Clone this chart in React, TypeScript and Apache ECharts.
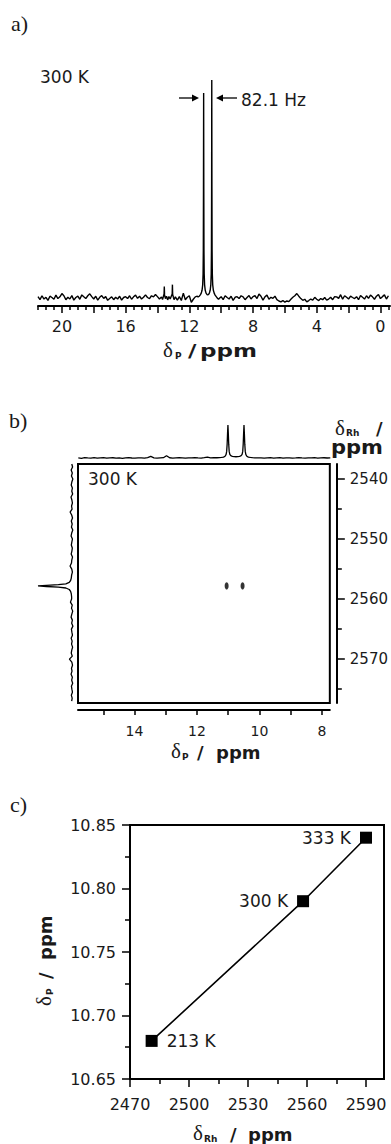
import React, { useEffect, useRef } from 'react';
import * as echarts from 'echarts';

// ---------- Panel a: 31P spectrum (ppm, intensity) ----------
const A_START = 21.5;
const A_STEP = -0.125;
const A_NOISE = [
  0.6, -0.8, 1.0, -0.5, 0.3, -1.1, 0.8, 0.2, -0.6, 1.3, -0.3, 0.5, 2.0, 1.0, -0.8, 0.3, -0.5, 1.1, -1.0, 0.2,
  0.8, -0.6, 1.4, 0.5, -0.3, 1.0, 1.9, 0.6, -0.5, 0.8, -1.0, 0.3, 1.1, -0.2, 0.6, -1.1, -0.3, 0.5, -0.8, 0.3,
  -0.5, 0.8, -1.0, 0.2, 0.6, -0.3, 1.0, -0.6, 0.5, 1.3, -0.2, 0.8, -0.5, 0.3, 1.4, 0.2, -0.3, 1.0, 0.5, 1.6,
  0.6, -0.5, 0.8, -0.3, 0.5, 0.2, -0.6, 1.0, 0.3, 0.5, -1.0, 0.6, -1.2, 2.2, -0.8, 0.3, 1.0, -2.0, -0.6, 0.5,
  0.8, 0, 0, 0, 0, 0, 0, 0, 0, 0, 0, -0.3, 0.6, -0.8, 1.0, 0.2, -0.5, 0.8, -1.1, 0.3,
  0.6, -0.3, 1.0, 0.5, -0.8, 0.2, 1.1, -0.5, 0.6, 1.0, -0.3, 1.8, 0.8, -1.0, 0.5, 1.3, -0.6, 0.3, -0.2, 0.8,
  -0.8, -1.4, -1.8, -1.2, -1.9, -1.4, -1.7, -0.6, 0.3, 1.0, 2.0, 0.8, -0.3, -1.1, -0.6, -1.8, -1.2, -0.5, -1.0, 0.3,
  -0.6, -1.2, -0.3, -0.8, 0.2, -1.0, -0.5, 0.3, -0.8, 0.6, 0.5, -0.2, 1.5, -0.6, 1.0, 0.3, -0.5, 0.8, 0.2, -0.3,
  0.6, -0.8, 1.1, 0.3, -0.5, 1.0, -0.2, 1.3, 0.5, -0.6, 0.8, 1.6, -0.3, 0.6, 1.4, -0.5, 1.0,
];
const A_GAPS: [number, number][] = [[12.95, 13.8], [10.15, 11.46]];
const A_DETAIL: [number, number][] = [
  [13.75, 0.4], [13.68, -0.7], [13.62, 0.9], [13.585, 1.8], [13.57, 5.2], [13.555, 1.4], [13.5, -0.3],
  [13.43, 0.8], [13.36, -0.9], [13.28, 0.6], [13.2, -0.5], [13.12, 1.0], [13.075, 1.8], [13.06, 6.1],
  [13.045, 1.6], [13.0, 0.3], [12.96, -0.8],
  [11.45, 0.4], [11.38, 0.8], [11.31, 1.4], [11.25, 2.2], [11.2, 3.5], [11.16, 6], [11.135, 11], [11.12, 22],
  [11.11, 50], [11.1, 94], [11.09, 50], [11.08, 22], [11.065, 11], [11.04, 6], [11.0, 3.5], [10.95, 2.2],
  [10.87, 1.4], [10.8, 1.5], [10.74, 2.2], [10.69, 3.5], [10.65, 6], [10.625, 11], [10.61, 22], [10.6, 50],
  [10.59, 100], [10.58, 50], [10.57, 22], [10.555, 11], [10.53, 6], [10.49, 3.5], [10.44, 2.2], [10.38, 1.3],
  [10.31, 0.6], [10.23, -0.2], [10.16, -0.6],
];
const A_MAJOR_TICKS = [0, 2, 4, 6, 8, 10, 12, 14, 16, 18, 20];
const A_LABELS = [0, 4, 8, 12, 16, 20];

// ---------- Panel b: 2D HMQC with projections ----------
const B_TOP_START = 15.8;
const B_TOP_STEP = -0.1;
const B_TOP_NOISE = [
  0.5, -0.8, 1.0, 0.2, -0.5, 0.9, -0.3, 0.4, 1.1, -0.6, 0.3, 0.8, -0.2, 0.5, -0.9, 0.6, 1.2, 0.1, -0.4, 0.7,
  0.2, -0.5, 1.4, 5.0, 0.6, -0.3, 0.4, 1.0, 7.0, 0.8, -0.2, 0.5, 1.1, 0.3, -0.6, 0.7, 0.2, 1.3, 0.4, -0.3,
  0.9, 3.0, 0.6, 0.8, 0, 0, 0, 0, 0, 0, 0, 0, 0, 0, 0, 0, 0, 0.6, 0.2, -0.4,
  0.5, 0.9, -0.2, 0.4, 1.0, -0.5, 0.3, 0.7, -0.1, 0.5, 1.2, 0.2, -0.4, 0.6, 0.3, 0.9, -0.2, 0.4, 0.8, 0.1, 0.5,
];
const B_TOP_GAPS: [number, number][] = [[10.15, 11.42]];
const B_TOP_DETAIL: [number, number][] = [
  [11.4, 0.8], [11.32, 1.1], [11.25, 1.7], [11.19, 2.8], [11.14, 5.5], [11.11, 10], [11.09, 20], [11.075, 42],
  [11.062, 75], [11.05, 100], [11.038, 75], [11.025, 42], [11.01, 20], [10.99, 11], [10.96, 7], [10.91, 5],
  [10.85, 4], [10.795, 3.8], [10.74, 4], [10.68, 5], [10.63, 7], [10.6, 11], [10.58, 20], [10.565, 42],
  [10.552, 75], [10.54, 100], [10.528, 75], [10.515, 42], [10.5, 20], [10.48, 10], [10.45, 5.5], [10.4, 2.8],
  [10.34, 1.7], [10.27, 1.1], [10.2, 0.7],
];
const B_LEFT_START = 2537.5;
const B_LEFT_STEP = 0.5;
const B_LEFT_NOISE = [
  0.5, -1.8, 2.4, -1.0, 1.5, -2.6, 0.4, 2.2, -1.2, 0.6, -2.0, 2.8, 0.2, -1.4, 1.2, -0.4, 5.5, 0.8, -1.6, 1.9,
  -0.6, 1.6, -2.4, 0.8, 2.6, -1.4, 0.4, 1.9, -1.0, 0.2, 2.4, -1.6, 0.6, 1.4, 5.5, 0.5, -1.2, 0, 0, 0,
  0, 0, 0, 0, 0, 1.0, 4.5, -0.8, 1.4, -2.2, 0.4, 2.6, -1.2, 0.8, -2.8, 1.6, 0.2, -1.4, 2.4, -0.5,
  1.2, -1.9, 0.6, 2.1, -1.0, 7.5, 0.4, -1.6, 1.4, -0.2, 2.6, -1.2, 0.8, -2.1, 1.6, 0.2, -1.4, 1.9, -0.6, 0.8,
];
const B_LEFT_GAPS: [number, number][] = [[2555.9, 2559.7]];
const B_LEFT_DETAIL: [number, number][] = [
  [2556.0, 1.0], [2556.5, 2.0], [2556.9, 4], [2557.2, 8], [2557.45, 18], [2557.6, 40], [2557.7, 75],
  [2557.8, 100], [2557.9, 75], [2558.0, 40], [2558.15, 18], [2558.4, 8], [2558.7, 4], [2559.1, 2.0], [2559.6, 1.0],
];
const CROSS_P = [11.05, 10.54];
const CROSS_RH = [2557.8, 2557.8];
const B_X_TICKS = [8, 9, 10, 11, 12, 13, 14, 15];
const B_X_LABELS = [8, 10, 12, 14];
const B_Y_MAJOR = [2540, 2550, 2560, 2570];
const B_Y_MINOR = [2545, 2555, 2565, 2575];

// ---------- Panel c: delta P vs delta Rh ----------
const C_RH = [2481, 2558, 2590];
const C_P = [10.68, 10.79, 10.84];
const C_TEMPS = ['213 K', '300 K', '333 K'];
const C_LABEL_POS = ['right', 'left', 'left'];
const C_X_MAJOR = [2470, 2500, 2530, 2560, 2590];
const C_X_MINOR = [2485, 2515, 2545, 2575];
const C_Y_MAJOR = [10.65, 10.7, 10.75, 10.8, 10.85];
const C_Y_MINOR = [10.675, 10.725, 10.775, 10.825];

function buildSpectrum(start: number, step: number, noise: number[], gaps: [number, number][], detail: [number, number][], desc: boolean) {
  const pts: [number, number][] = [];
  noise.forEach((v, i) => {
    const p = +(start + step * i).toFixed(4);
    if (!gaps.some(([a, b]) => p >= a && p <= b)) pts.push([p, v]);
  });
  detail.forEach((d) => pts.push([d[0], d[1]]));
  pts.sort((a, b) => (desc ? b[0] - a[0] : a[0] - b[0]));
  return pts;
}

const FONT = 'DejaVu Sans';
const SERIF = 'Liberation Serif';
const INK = '#1a1a1a';

function tickAxis(extra: any) {
  return {
    type: 'value',
    splitLine: { show: false },
    axisLine: { show: false, onZero: false },
    axisLabel: { show: false },
    axisTick: { show: false },
    ...extra,
  };
}

function txt(x: number, y: number, text: string, size: number, opts: any = {}) {
  return {
    type: 'text',
    x,
    y,
    scaleX: opts.sx || 1,
    style: {
      text,
      fontFamily: opts.family || FONT,
      fontWeight: opts.bold ? 'bold' : 'normal',
      fontSize: size,
      fill: INK,
      align: opts.align || 'left',
      verticalAlign: 'middle',
      textAlign: opts.align || 'left',
      textVerticalAlign: 'middle',
    },
  };
}

// axis title made of separate pieces: delta (serif), subscript (bold), slash and ppm (bold)
function title(x: number, y: number, sub: string, layout: number[], opts: any = {}) {
  const [dX, sX, slX, pX] = layout;
  return {
    type: 'group',
    x,
    y,
    rotation: opts.rotation || 0,
    children: [
      txt(dX, -1, 'δ', 21, { family: SERIF }),
      txt(sX, 5, sub, 9, { bold: true }),
      txt(slX, 0, '/', 18, { bold: true, sx: opts.sx || 1 }),
      txt(pX, 0, 'ppm', 18, { bold: true, sx: opts.sx || 1 }),
    ],
  };
}

const plain = (v: number) => String(v);

export default function App() {
  const ref = useRef<HTMLDivElement>(null);
  useEffect(() => {
    const chart = echarts.init(ref.current!, null, { renderer: 'svg', width: 391, height: 1144 });
    const aData = buildSpectrum(A_START, A_STEP, A_NOISE, A_GAPS, A_DETAIL, true);
    const topData = buildSpectrum(B_TOP_START, B_TOP_STEP, B_TOP_NOISE, B_TOP_GAPS, B_TOP_DETAIL, true);
    const leftRaw = buildSpectrum(B_LEFT_START, B_LEFT_STEP, B_LEFT_NOISE, B_LEFT_GAPS, B_LEFT_DETAIL, false);
    const leftData = leftRaw.map(([p, v]) => [v, p]);

    const aMinor: number[] = [];
    for (let v = -0.5; v <= 21.5; v += 0.5) if (Math.abs(v % 2) > 1e-6) aMinor.push(v);

    const lbl = (size: number, margin: number, custom: number[], fmt: (v: number) => string = plain) => ({
      show: true,
      fontFamily: FONT,
      fontSize: size,
      color: INK,
      margin,
      customValues: custom,
      formatter: fmt,
    });
    const tick = (len: number, custom: number[]) => ({
      show: true,
      inside: false,
      length: len,
      customValues: custom,
      lineStyle: { color: '#000', width: 1.5 },
    });
    const line = (w: number) => ({ show: true, onZero: false, lineStyle: { color: '#000', width: w } });

    const option: any = {
      animation: false,
      backgroundColor: '#fff',
      grid: [
        { left: 38, width: 352, top: 80, height: 226 },
        { left: 78, width: 254, top: 425, height: 35 },
        { left: 78, width: 254, top: 464, height: 239, show: true, borderColor: '#000', borderWidth: 2, backgroundColor: 'transparent' },
        { left: 38, width: 36, top: 464, height: 239 },
        { left: 130, width: 254, top: 825, height: 254, show: true, borderColor: '#000', borderWidth: 2, backgroundColor: 'transparent' },
      ],
      xAxis: [
        tickAxis({ gridIndex: 0, min: -0.6, max: 21.5, inverse: true, position: 'bottom', axisTick: tick(4, aMinor) }),
        tickAxis({
          gridIndex: 0, min: -0.6, max: 21.5, inverse: true, position: 'bottom',
          axisLine: line(2), axisTick: tick(7, A_MAJOR_TICKS), axisLabel: lbl(16, 12, A_LABELS),
        }),
        tickAxis({ gridIndex: 1, min: 7.746, max: 15.81, inverse: true, show: false }),
        tickAxis({
          gridIndex: 2, min: 7.746, max: 15.81, inverse: true, position: 'bottom', offset: 7,
          axisLine: line(2), axisTick: tick(5, B_X_TICKS), axisLabel: lbl(14, 14, B_X_LABELS),
        }),
        tickAxis({ gridIndex: 3, min: -6, max: 100, inverse: true, show: false }),
        tickAxis({
          gridIndex: 4, min: 2470, max: 2599.15, position: 'bottom',
          axisLine: line(2), axisTick: tick(8, C_X_MAJOR), axisLabel: lbl(16, 17, C_X_MAJOR),
        }),
        tickAxis({ gridIndex: 4, min: 2470, max: 2599.15, position: 'bottom', axisTick: tick(5, C_X_MINOR) }),
      ],
      yAxis: [
        tickAxis({ gridIndex: 0, min: -3.7, max: 100, show: false }),
        tickAxis({ gridIndex: 1, min: -6, max: 100, show: false }),
        tickAxis({
          gridIndex: 2, min: 2537.5, max: 2577.3, inverse: true, position: 'right', offset: 7,
          axisLine: line(2), axisTick: tick(8, B_Y_MAJOR), axisLabel: lbl(15, 13, B_Y_MAJOR),
        }),
        tickAxis({ gridIndex: 2, min: 2537.5, max: 2577.3, inverse: true, position: 'right', offset: 7, axisTick: tick(5, B_Y_MINOR) }),
        tickAxis({ gridIndex: 3, min: 2537.5, max: 2577.3, inverse: true, show: false }),
        tickAxis({
          gridIndex: 4, min: 10.65, max: 10.85, position: 'left',
          axisLine: line(2), axisTick: tick(8, C_Y_MAJOR), axisLabel: lbl(16, 14, C_Y_MAJOR, (v: number) => v.toFixed(2)),
        }),
        tickAxis({ gridIndex: 4, min: 10.65, max: 10.85, position: 'left', axisTick: tick(5, C_Y_MINOR) }),
      ],
      series: [
        {
          type: 'line', xAxisIndex: 1, yAxisIndex: 0, data: aData, symbol: 'none', silent: true,
          lineStyle: { color: '#000', width: 1.4 },
        },
        {
          type: 'line', xAxisIndex: 2, yAxisIndex: 1, data: topData, symbol: 'none', silent: true,
          lineStyle: { color: '#000', width: 1.3 },
        },
        {
          type: 'line', xAxisIndex: 4, yAxisIndex: 4, data: leftData, symbol: 'none', silent: true,
          lineStyle: { color: '#000', width: 1.3 },
        },
        {
          type: 'scatter', xAxisIndex: 3, yAxisIndex: 2, silent: true,
          data: CROSS_P.map((p, i) => [p, CROSS_RH[i]]),
          symbol: 'circle', symbolSize: [4, 7], itemStyle: { color: '#000' },
        },
        {
          type: 'line', xAxisIndex: 5, yAxisIndex: 5, silent: true,
          symbol: 'rect', symbolSize: 12, showSymbol: true,
          lineStyle: { color: '#000', width: 1.6 }, itemStyle: { color: '#000' },
          data: C_RH.map((x, i) => ({
            value: [x, C_P[i]],
            label: {
              show: true, position: C_LABEL_POS[i], distance: 9, formatter: C_TEMPS[i],
              fontFamily: FONT, fontSize: 17, color: INK,
            },
          })),
        },
      ],
      graphic: [
        txt(11, 23, 'a)', 22, { family: SERIF }),
        txt(9, 420, 'b)', 22, { family: SERIF }),
        txt(10, 804, 'c)', 22, { family: SERIF }),
        txt(40, 77, '300 K', 17),
        txt(88, 479, '300 K', 17),
        txt(241, 100, '82.1 Hz', 17),
        { type: 'line', shape: { x1: 179, y1: 98, x2: 195, y2: 98 }, style: { stroke: '#000', lineWidth: 1.3 } },
        { type: 'polygon', shape: { points: [[199, 98], [192, 94.5], [192, 101.5]] }, style: { fill: '#000' } },
        { type: 'line', shape: { x1: 220, y1: 98, x2: 237, y2: 98 }, style: { stroke: '#000', lineWidth: 1.3 } },
        { type: 'polygon', shape: { points: [[216, 98], [223, 94.5], [223, 101.5]] }, style: { fill: '#000' } },
        title(200, 351, 'P', [-37, -25, -12, 0], { sx: 1.28 }),
        title(216, 752, 'P', [-45, -34, -19, 0]),
        title(248, 1134, 'Rh', [-55, -44, -18, 0]),
        title(45, 960, 'P', [-46, -35, -19, 0], { rotation: Math.PI / 2 }),
        txt(335, 428, 'δ', 21, { family: SERIF }),
        txt(346, 433, 'Rh', 9, { bold: true }),
        txt(376, 428, '/', 18, { bold: true }),
        txt(331, 447, 'ppm', 20, { bold: true, sx: 1.05 }),
      ],
    };
    chart.setOption(option);
    return () => chart.dispose();
  }, []);
  return (
    <div
      ref={ref}
      style={{ position: 'absolute', left: 0, top: 0, width: 391, height: 1144, background: '#fff' }}
    />
  );
}
